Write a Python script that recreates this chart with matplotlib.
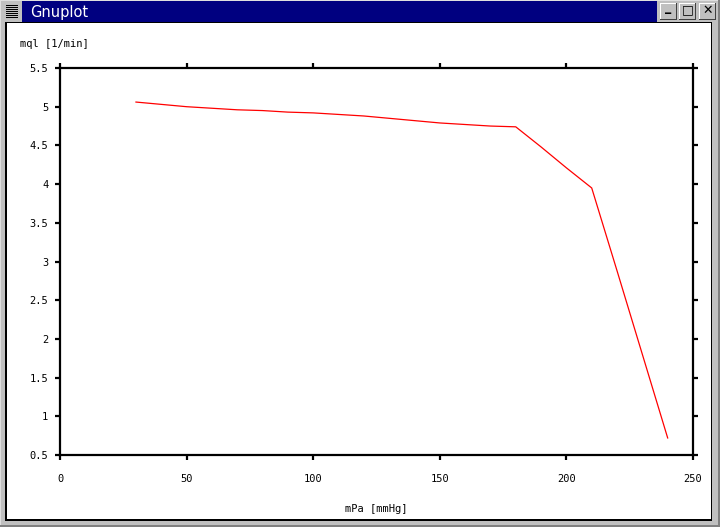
import matplotlib.pyplot as plt
from matplotlib.patches import Rectangle

# pressure [mmHg] and flow [1/min]
mpa = [30, 40, 50, 60, 70, 80, 90, 100, 110, 120, 130, 140, 150, 160, 170, 180,
       190, 200, 210, 220, 230, 240]
mql = [5.06, 5.03, 5.00, 4.98, 4.96, 4.95, 4.93, 4.92, 4.90, 4.88, 4.85, 4.82,
       4.79, 4.77, 4.75, 4.74, 4.48, 4.21, 3.95, 2.88, 1.80, 0.72]
xticks = [0, 50, 100, 150, 200, 250]
yticks = [0.5, 1, 1.5, 2, 2.5, 3, 3.5, 4, 4.5, 5, 5.5]

W, H = 720, 527
fig = plt.figure(figsize=(7.2, 5.27), dpi=100)
fig.patch.set_facecolor('#c0c0c0')

def px(x, y, w, h):
    # pixel box (top-left origin) -> figure coords
    return (x / W, 1 - (y + h) / H), w / W, h / H

def box(x, y, w, h, fc, z=0):
    xy, ww, hh = px(x, y, w, h)
    fig.add_artist(Rectangle(xy, ww, hh, transform=fig.transFigure,
                             facecolor=fc, edgecolor='none', zorder=z))

# window frame
box(5, 22, 707, 499, 'black')
box(7, 23, 704, 496, 'white')
box(0, 0, 720, 1, '#dfdfdf')
box(0, 0, 1, 527, '#dfdfdf')
box(718, 0, 2, 527, '#808080')
box(0, 525, 720, 2, '#808080')

# title bar
box(22, 1, 635, 21, '#000080')
box(2, 2, 20, 20, '#c0c0c0')
for i in range(7):
    box(6, 5 + i * 2, 12, 1, 'black')
fig.text(30 / W, 1 - 12 / H, 'Gnuplot', color='white', fontsize=10.5,
         family='DejaVu Sans', va='center', ha='left')

# buttons
for bx, sym in [(660, '_'), (679, '□'), (699, '✕')]:
    box(bx, 3, 17, 17, '#c0c0c0', z=1)
    box(bx, 3, 17, 1, 'white', z=2)
    box(bx, 3, 1, 17, 'white', z=2)
    box(bx, 19, 17, 1, '#404040', z=2)
    box(bx + 16, 3, 1, 17, '#404040', z=2)
    yy = 1 - 10 / H if sym != '_' else 1 - 8 / H
    fig.text((bx + 8.5) / W, yy, sym, fontsize=9, ha='center', va='center',
             family='DejaVu Sans', fontweight='bold', zorder=3)

# plot area
ax = fig.add_axes([60 / W, 1 - 455 / H, 633 / W, 387 / H])
ax.plot(mpa, mql, color='red', linewidth=0.9)
ax.set_xlim(0, 250)
ax.set_ylim(0.5, 5.5)
ax.set_xticks(xticks)
ax.set_xticklabels([str(t) for t in xticks])
ax.set_yticks(yticks)
ax.set_yticklabels(['0.5', '1', '1.5', '2', '2.5', '3', '3.5', '4', '4.5', '5', '5.5'])
for s in ax.spines.values():
    s.set_linewidth(1.6)
ax.tick_params(direction='out', length=3.5, width=1.6, top=True, right=True,
               labelsize=7.5)
ax.tick_params(axis='x', pad=10)
ax.tick_params(axis='y', pad=5)
for lab in ax.get_xticklabels() + ax.get_yticklabels():
    lab.set_family('DejaVu Sans Mono')

fig.text(20 / W, 1 - 44 / H, 'mql [1/min]', fontsize=7.5, family='DejaVu Sans Mono',
         ha='left', va='center')
fig.text(376 / W, 1 - 509 / H, 'mPa [mmHg]', fontsize=7.5, family='DejaVu Sans Mono',
         ha='center', va='center')

fig.savefig('out.png', dpi=100, facecolor=fig.get_facecolor())
